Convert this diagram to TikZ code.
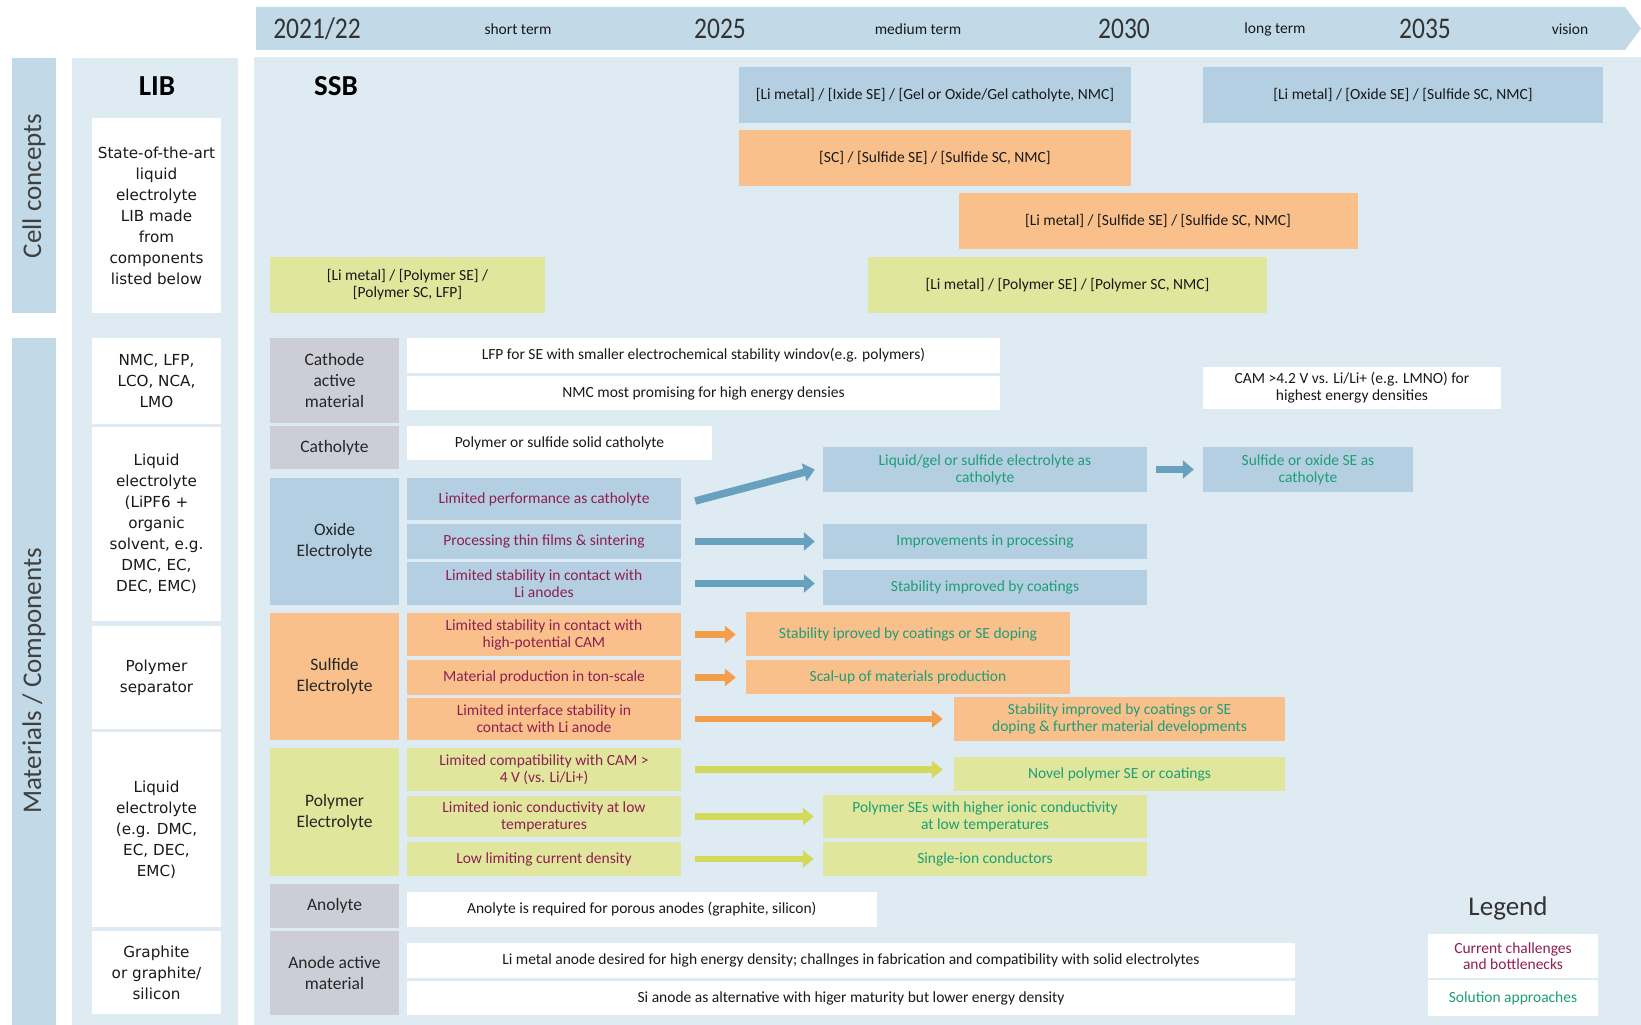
\documentclass[tikz,border=0pt]{standalone}
\usepackage{fontspec}
\setmainfont{Carlito}
\newfontfamily\libfamily{DejaVu Sans}
\newfontfamily\yearfamily{Carlito}[FakeStretch=0.85]
\usetikzlibrary{arrows.meta,calc}

\definecolor{panelblue}{HTML}{DFEBF3}
\definecolor{barblue}{HTML}{C2D9E7}
\definecolor{oxblue}{HTML}{B4CFE1}
\definecolor{suorange}{HTML}{F9C08B}
\definecolor{poyellow}{HTML}{E0E69B}
\definecolor{catgray}{HTML}{CCCDD7}
\definecolor{oxarrow}{HTML}{68A1BE}
\definecolor{suarrow}{HTML}{F39E4B}
\definecolor{poarrow}{HTML}{D3DA5B}
\definecolor{issuetext}{HTML}{8E1F52}
\definecolor{soltext}{HTML}{1E9E78}

\newcommand{\boxfont}{\fontsize{15.5}{17}\selectfont}
\newcommand{\catfont}{\fontsize{17.5}{21}\selectfont}
\newcommand{\libfont}{\libfamily\fontsize{15.2}{21}\selectfont}
\newcommand{\yearfont}{\yearfamily\fontsize{30}{30}\selectfont}
\newcommand{\headfont}{\bfseries\fontsize{29}{29}\selectfont}
\newcommand{\sidefont}{\fontsize{27}{27}\selectfont}

\tikzstyle{year} = [inner sep=0pt, font=\yearfont, text=black!80]
\tikzstyle{term} = [inner sep=0pt, font=\boxfont, text=black!90]
\tikzstyle{side} = [inner sep=0pt, font=\sidefont, text=black!75]
\tikzstyle{head} = [inner sep=0pt, font=\headfont]
\tikzstyle{libbox} = [rectangle, fill=white, inner sep=0pt, minimum width=129pt,
    align=center, font=\libfont, text=black!90]
\tikzstyle{cell} = [rectangle, inner sep=0pt, minimum height=56pt,
    align=center, font=\boxfont, text=black!90]
\tikzstyle{cellox} = [cell, fill=oxblue]
\tikzstyle{cellsu} = [cell, fill=suorange]
\tikzstyle{cellpo} = [cell, fill=poyellow]
\tikzstyle{cat} = [rectangle, inner sep=0pt, minimum width=129pt,
    align=center, font=\catfont, text=black!85]
\tikzstyle{catgr} = [cat, fill=catgray]
\tikzstyle{catox} = [cat, fill=oxblue, minimum height=127pt]
\tikzstyle{catsu} = [cat, fill=suorange, minimum height=127pt]
\tikzstyle{catpo} = [cat, fill=poyellow, minimum height=128pt]
\tikzstyle{note} = [rectangle, fill=white, inner sep=0pt, minimum height=35pt,
    align=center, font=\boxfont, text=black!90]
\tikzstyle{issue} = [rectangle, inner sep=0pt, minimum width=274pt, minimum height=35pt,
    align=center, font=\boxfont, text=issuetext]
\tikzstyle{issueox} = [issue, fill=oxblue]
\tikzstyle{issuesu} = [issue, fill=suorange]
\tikzstyle{issuepo} = [issue, fill=poyellow]
\tikzstyle{sol} = [rectangle, inner sep=0pt, minimum width=324pt, minimum height=35pt,
    align=center, font=\boxfont, text=soltext]
\tikzstyle{solox} = [sol, fill=oxblue]
\tikzstyle{solsu} = [sol, fill=suorange]
\tikzstyle{solpo} = [sol, fill=poyellow]
\tikzstyle{oxarr} = [draw=oxarrow, line width=7.5pt, -{Triangle[length=11pt,width=18pt]}]
\tikzstyle{suarr} = [draw=suarrow, line width=6.5pt, -{Triangle[length=11pt,width=17pt]}]
\tikzstyle{poarr} = [draw=poarrow, line width=6.5pt, -{Triangle[length=11pt,width=17pt]}]

\begin{document}
\begin{tikzpicture}[x=1pt,y=-1pt]
	\useasboundingbox (0,0) rectangle (1641,1025);
	% timeline banner and background panels
	\fill [barblue] (256,7) -- (1625,7) -- (1641,28.5) -- (1625,50) -- (256,50) -- cycle;
	\fill [barblue] (12,58) rectangle (56,313);
	\fill [barblue] (12,338) rectangle (56,1025);
	\fill [panelblue] (72,58) rectangle (238,1025);
	\fill [panelblue] (254,57) rectangle (1641,1025);
	%
	\node [year] (y21) at (317,29) {2021/22};
	\node [term] (tshort) at (518,29) {short term};
	\node [year] (y25) at (720,29) {2025};
	\node [term] (tmedium) at (918,29) {medium term};
	\node [year] (y30) at (1124,29) {2030};
	\node [term] (tlong) at (1275,29) {long term};
	\node [year] (y35) at (1425,29) {2035};
	\node [term] (tvision) at (1570,29) {vision};
	%
	\node [side, rotate=90] (cellc) at (34,186) {Cell concepts};
	\node [side, rotate=90] (matc) at (34,681) {Materials / Components};
	\node [head] (lib) at (157,86) {LIB};
	\node [head] (ssb) at (336,86) {SSB};
	% LIB column
	\node [libbox, minimum height=195pt] (lib0) at (156.5,215.5) {State-of-the-art\\liquid\\electrolyte\\LIB made\\from\\components\\listed below};
	\node [libbox, minimum height=86pt] (lib1) at (156.5,381) {NMC, LFP,\\LCO, NCA,\\LMO};
	\node [libbox, minimum height=194pt] (lib2) at (156.5,524) {Liquid\\electrolyte\\(LiPF6 +\\organic\\solvent, e.g.\\DMC, EC,\\DEC, EMC)};
	\node [libbox, minimum height=103pt] (lib3) at (156.5,677.5) {Polymer\\separator};
	\node [libbox, minimum height=195pt] (lib4) at (156.5,829.5) {Liquid\\electrolyte\\(e.g. DMC,\\EC, DEC,\\EMC)};
	\node [libbox, minimum height=83pt] (lib5) at (156.5,972.5) {Graphite\\or graphite/\\silicon};
	% SSB cell concepts
	\node [cellox, minimum width=392pt] (cc1) at (935,95) {[Li metal] / [Ixide SE] / [Gel or Oxide/Gel catholyte, NMC]};
	\node [cellox, minimum width=400pt] (cc2) at (1403,95) {[Li metal] / [Oxide SE] / [Sulfide SC, NMC]};
	\node [cellsu, minimum width=392pt] (cc3) at (935,158) {[SC] / [Sulfide SE] / [Sulfide SC, NMC]};
	\node [cellsu, minimum width=399pt] (cc4) at (1158,221) {[Li metal] / [Sulfide SE] / [Sulfide SC, NMC]};
	\node [cellpo, minimum width=399pt] (cc5) at (1067.5,285) {[Li metal] / [Polymer SE] / [Polymer SC, NMC]};
	\node [cellpo, minimum width=275pt] (cc6) at (407.5,285) {[Li metal] / [Polymer SE] /\\{}[Polymer SC, LFP]};
	% components
	\node [catgr, minimum height=85pt] (cam) at (334.5,380.5) {Cathode\\active\\material};
	\node [catgr, minimum height=43pt] (cath) at (334.5,447.5) {Catholyte};
	\node [catox] (oxe) at (334.5,541.5) {Oxide\\Electrolyte};
	\node [catsu] (sue) at (334.5,676.5) {Sulfide\\Electrolyte};
	\node [catpo] (poe) at (334.5,812) {Polymer\\Electrolyte};
	\node [catgr, minimum height=44pt] (anol) at (334.5,906) {Anolyte};
	\node [catgr, minimum height=84pt] (aam) at (334.5,973) {Anode active\\material};
	%
	\node [note, minimum width=593pt] (cam1) at (703.5,355.5) {LFP for SE with smaller electrochemical stability windov(e.g. polymers)};
	\node [note, minimum width=593pt, minimum height=34pt] (cam2) at (703.5,393) {NMC most promising for high energy densies};
	\node [note, minimum width=298.5pt, minimum height=42pt] (cam3) at (1352,388) {CAM >4.2 V vs. Li/Li+ (e.g. LMNO) for\\highest energy densities};
	\node [note, minimum width=305pt, minimum height=34pt] (cath1) at (559.5,443) {Polymer or sulfide solid catholyte};
	\node [note, minimum width=469.5pt] (anol1) at (641.75,909.5) {Anolyte is required for porous anodes (graphite, silicon)};
	\node [note, minimum width=888pt] (aam1) at (851,960.5) {Li metal anode desired for high energy density; challnges in fabrication and compatibility with solid electrolytes};
	\node [note, minimum width=888pt, minimum height=34pt] (aam2) at (851,998) {Si anode as alternative with higer maturity but lower energy density};
	% challenges
	\node [issueox, minimum height=42pt] (ox1) at (544,499) {Limited performance as catholyte};
	\node [issueox] (ox2) at (544,541.5) {Processing thin films \& sintering};
	\node [issueox, minimum height=43pt] (ox3) at (544,583.5) {Limited stability in contact with\\Li anodes};
	\node [issuesu, minimum height=43pt] (su1) at (544,634.5) {Limited stability in contact with\\high-potential CAM};
	\node [issuesu] (su2) at (544,677.5) {Material production in ton-scale};
	\node [issuesu, minimum height=42pt] (su3) at (544,719) {Limited interface stability in\\contact with Li anode};
	\node [issuepo, minimum height=43pt] (po1) at (544,769.5) {Limited compatibility with CAM >\\4 V (vs. Li/Li+)};
	\node [issuepo, minimum height=41pt] (po2) at (544,816.5) {Limited ionic conductivity at low\\temperatures};
	\node [issuepo, minimum height=34pt] (po3) at (544,859) {Low limiting current density};
	% solutions
	\node [solox, minimum height=45pt] (sox1) at (985,469.5) {Liquid/gel or sulfide electrolyte as\\catholyte};
	\node [solox, minimum width=210pt, minimum height=45pt] (sox1b) at (1308,469.5) {Sulfide or oxide SE as\\catholyte};
	\node [solox] (sox2) at (985,541.5) {Improvements in processing};
	\node [solox] (sox3) at (985,587.5) {Stability improved by coatings};
	\node [solsu, minimum height=44pt] (ssu1) at (908,634) {Stability iproved by coatings or SE doping};
	\node [solsu, minimum height=34pt] (ssu2) at (908,677) {Scal-up of materials production};
	\node [solsu, minimum width=331pt, minimum height=44pt] (ssu3) at (1119.5,719) {Stability improved by coatings or SE\\doping \& further material developments};
	\node [solpo, minimum width=331pt, minimum height=34pt] (spo1) at (1119.5,774) {Novel polymer SE or coatings};
	\node [solpo, minimum height=43pt] (spo2) at (985,816.5) {Polymer SEs with higher ionic conductivity\\at low temperatures};
	\node [solpo, minimum height=34pt] (spo3) at (985,859) {Single-ion conductors};
	%
	\draw [oxarr] ($(ox1.east)+(14,2)$) -- ($(sox1.west)+(-8,0)$);
	\draw [oxarr] ($(sox1.east)+(9,0)$) -- ($(sox1b.west)+(-9,0)$);
	\draw [oxarr] ($(ox2.east)+(14,0)$) -- ($(ox2.east -| sox2.west)+(-8,0)$);
	\draw [oxarr] ($(ox3.east)+(14,0)$) -- ($(ox3.east -| sox3.west)+(-8,0)$);
	\draw [suarr] ($(su1.east)+(14,0)$) -- ($(su1.east -| ssu1.west)+(-10,0)$);
	\draw [suarr] ($(su2.east)+(14,0)$) -- ($(su2.east -| ssu2.west)+(-10,0)$);
	\draw [suarr] ($(su3.east)+(14,0)$) -- ($(su3.east -| ssu3.west)+(-11,0)$);
	\draw [poarr] ($(po1.east)+(14,0)$) -- ($(po1.east -| spo1.west)+(-11,0)$);
	\draw [poarr] ($(po2.east)+(14,0)$) -- ($(po2.east -| spo2.west)+(-9,0)$);
	\draw [poarr] ($(po3.east)+(14,0)$) -- ($(po3.east -| spo3.west)+(-9,0)$);
	% legend
	\node [inner sep=0pt, font=\sidefont, text=black!80] (leg) at (1508,908) {Legend};
	\node [note, minimum width=170pt, minimum height=44pt, text=issuetext, font=\fontsize{15.5}{15.5}\selectfont] (leg1) at (1513,956) {Current challenges\\and bottlenecks};
	\node [note, minimum width=170pt, minimum height=36pt, text=soltext] (leg2) at (1513,998) {Solution approaches};
\end{tikzpicture}
\end{document}
